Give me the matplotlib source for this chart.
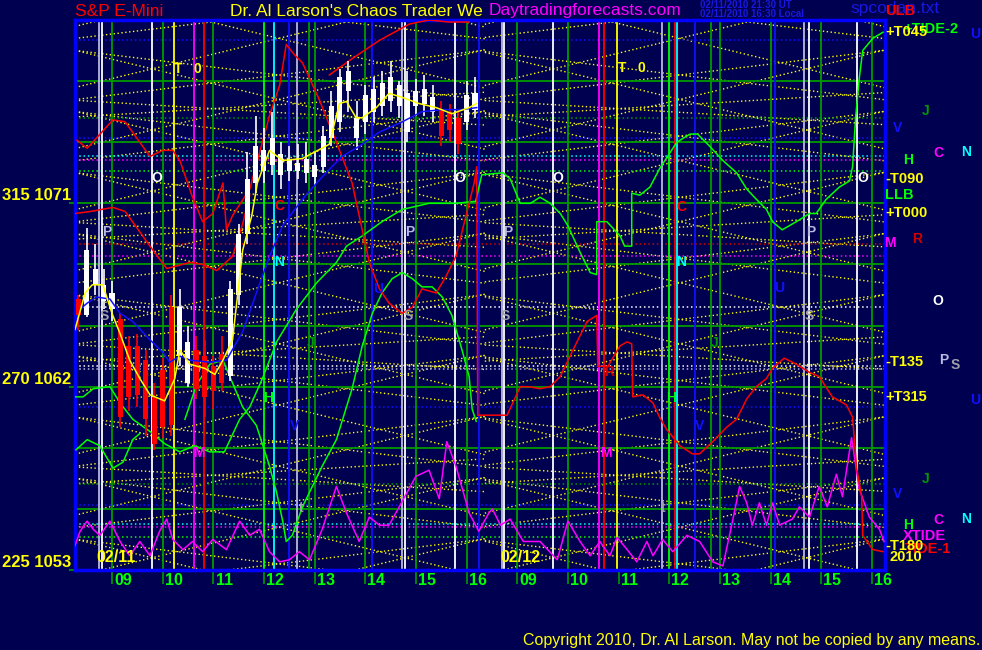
"""S&P E-Mini chaos trader chart, 02/11 - 02/12 2010."""

import matplotlib
matplotlib.use("Agg")
import matplotlib.pyplot as plt
import matplotlib.transforms as mtransforms
import numpy as np

plt.rcParams["font.family"] = ["Liberation Sans", "DejaVu Sans"]

# x axis is in chart hours: day 1 hour h -> h, day 2 hour h -> h + 8
BG = "#000050"
YELLOW = "#ffff00"
GREEN = "#00ff00"
DKGREEN = "#009a00"
BLUE = "#1010ff"
RED = "#ff0000"
MAGENTA = "#ff00ff"
CYAN = "#00ffff"
LAV = "#b8b8e0"
WHITE = "#ffffff"
GRAY = "#a0a0a8"

X_MIN, X_MAX = 8.27, 24.26
P_MIN, P_MAX = 1053.0, 1080.0

# ---- 10 minute bars, day 1 ----
bar_times = 8 + np.arange(2, 50) / 6
bar_open = [1066.3, 1065.5, 1067.0, 1066.2, 1065.8, 1065.3, 1064.0, 1064.0, 1063.3, 1061.5,
            1062.8, 1065.9, 1063.5, 1062.2, 1063.8, 1063.5, 1063.0, 1063.6, 1062.5, 1066.5,
            1069.5, 1072.0, 1072.6, 1072.9, 1072.4, 1072.6, 1072.6, 1072.5, 1072.3, 1072.8,
            1074.2, 1075.0, 1076.5, 1074.2, 1075.0, 1075.5, 1075.8, 1076.0, 1075.8, 1074.5,
            1075.8, 1075.9, 1075.5, 1075.6, 1075.5, 1075.2, 1075.0, 1075.6]
bar_close = [1065.5, 1068.7, 1067.8, 1067.0, 1066.6, 1060.5, 1061.5, 1061.6, 1060.4, 1059.2,
             1060.0, 1060.1, 1065.9, 1064.2, 1061.9, 1061.5, 1061.8, 1062.2, 1066.8, 1069.5,
             1072.2, 1073.8, 1073.6, 1074.2, 1073.4, 1073.2, 1073.0, 1073.2, 1072.9, 1074.3,
             1075.8, 1077.2, 1077.5, 1075.2, 1076.3, 1076.6, 1076.9, 1077.2, 1076.8, 1076.4,
             1076.5, 1076.6, 1076.2, 1074.3, 1074.6, 1073.9, 1076.3, 1076.4]
bar_high = [1066.5, 1069.8, 1069.0, 1067.8, 1067.2, 1065.6, 1064.5, 1064.6, 1063.8, 1062.2,
            1063.4, 1066.5, 1066.8, 1065.0, 1064.5, 1064.3, 1063.5, 1064.5, 1067.2, 1070.0,
            1073.5, 1075.3, 1074.7, 1075.5, 1074.0, 1073.8, 1073.9, 1074.0, 1073.5, 1074.8,
            1076.5, 1077.6, 1078.0, 1076.0, 1076.8, 1077.2, 1077.5, 1078.0, 1077.0, 1077.5,
            1077.1, 1077.3, 1076.8, 1076.0, 1075.9, 1075.6, 1077.0, 1077.2]
bar_low = [1064.8, 1065.4, 1066.5, 1065.8, 1065.2, 1060.0, 1060.8, 1061.0, 1059.6, 1058.9,
           1059.5, 1059.6, 1063.0, 1062.0, 1061.4, 1060.5, 1060.9, 1061.8, 1062.3, 1066.0,
           1069.0, 1071.5, 1072.0, 1072.4, 1071.7, 1072.1, 1072.2, 1072.0, 1071.9, 1072.5,
           1073.8, 1074.5, 1075.5, 1073.6, 1074.4, 1075.0, 1075.3, 1075.5, 1075.2, 1074.0,
           1075.3, 1075.3, 1075.0, 1073.8, 1074.0, 1073.4, 1074.6, 1075.2]

# ---- overlay curves (chart hour, price) ----
ma_t = [8.27, 8.47, 8.61, 8.82, 9.00, 9.16, 9.35, 9.55, 9.75, 10.04, 10.24, 10.34, 10.54, 10.83,
        11.03, 11.19, 11.38, 11.58, 11.76, 11.87, 12.11, 12.37, 12.76, 13.29, 13.49, 13.63, 13.82,
        13.94, 14.22, 14.47, 14.73, 15.06, 15.40, 15.71, 16.05, 16.20]
ma_p = [1064.8, 1066.6, 1067.0, 1067.0, 1065.6, 1064.6, 1063.3, 1062.4, 1061.6, 1061.3, 1062.4,
        1063.8, 1063.1, 1062.9, 1062.6, 1063.3, 1064.3, 1068.7, 1070.4, 1072.0, 1073.6, 1073.1,
        1073.2, 1073.9, 1075.9, 1076.0, 1075.2, 1075.2, 1075.7, 1076.4, 1076.2, 1075.9, 1075.7,
        1075.4, 1075.7, 1075.9]

blue_t = [8.37, 8.51, 8.70, 8.96, 9.16, 9.41, 9.75, 10.0, 10.14, 10.34, 10.54, 10.93, 11.26,
          11.58, 11.85, 12.11, 12.37, 12.76, 13.15, 13.54, 13.88, 14.28, 14.73, 15.12, 15.52,
          15.91, 16.20]
blue_p = [1065.8, 1066.1, 1066.4, 1066.3, 1065.6, 1065.2, 1064.3, 1063.7, 1063.2, 1063.5, 1063.3,
          1063.2, 1063.3, 1064.7, 1066.6, 1068.4, 1069.9, 1071.2, 1072.3, 1073.3, 1073.8, 1074.5,
          1075.0, 1075.5, 1075.6, 1075.6, 1075.7]

red_a_t = [8.31, 8.51, 9.02, 9.26, 9.75, 10.0, 10.20, 10.34, 10.59, 10.79, 10.99, 11.19, 11.26,
           11.38, 11.72, 12.11, 12.31, 12.44, 12.60, 12.76, 13.09, 13.43, 13.74, 13.94, 14.08,
           14.28, 14.47, 14.73, 14.93, 15.12, 15.40, 15.59, 15.79, 15.99, 16.15, 16.20, 16.22,
           16.47, 16.80, 17.06, 17.22, 17.45, 17.65, 17.85, 18.10, 18.38, 18.57, 18.59, 18.79,
           19.03, 19.17, 19.26, 19.28, 19.48, 19.68, 19.81, 19.95, 20.21, 20.46, 20.60, 20.86,
           21.13, 21.33, 21.53, 21.72, 21.92, 22.04, 22.27, 22.51, 22.77, 22.96, 23.22, 23.50,
           23.62, 23.70, 23.80, 23.82, 24.02, 24.22]
red_a_p = [1074.1, 1073.7, 1075.1, 1075.0, 1073.3, 1073.6, 1073.6, 1073.1, 1071.3, 1070.1, 1070.5,
           1072.0, 1069.7, 1070.4, 1071.7, 1075.3, 1076.8, 1078.8, 1078.3, 1077.9, 1076.1, 1074.0,
           1072.0, 1069.7, 1068.1, 1066.8, 1066.1, 1065.6, 1065.9, 1066.8, 1066.6, 1067.4, 1068.4,
           1070.4, 1072.0, 1072.8, 1060.6, 1060.6, 1060.6, 1062.0, 1062.0, 1061.9, 1062.0, 1062.5,
           1063.8, 1065.2, 1065.5, 1063.0, 1063.0, 1064.0, 1064.2, 1064.1, 1061.5, 1061.6, 1061.2,
           1060.5, 1059.9, 1059.1, 1058.7, 1058.7, 1059.3, 1060.0, 1060.4, 1061.4, 1062.0, 1062.4,
           1062.9, 1063.4, 1063.1, 1062.7, 1062.5, 1061.5, 1061.1, 1060.5, 1058.0, 1056.6, 1054.7,
           1054.0, 1053.9]

red_b_t = [8.27, 8.57, 9.02, 9.26, 9.75, 10.08, 10.54, 10.79, 11.07, 11.38, 11.58, 11.72]
red_b_p = [1070.5, 1070.6, 1070.8, 1070.6, 1068.9, 1067.8, 1068.1, 1068.0, 1067.7, 1068.4,
           1070.0, 1071.4]

red_c_t = [13.29, 13.74, 14.28, 14.87, 15.26, 15.65, 16.05]
red_c_p = [1077.3, 1078.1, 1079.0, 1079.8, 1080.0, 1079.9, 1079.9]

green_a_t = [8.27, 8.43, 8.63, 8.96, 9.16, 9.41, 9.75, 10.04, 10.34, 10.63, 10.93, 11.22, 11.52,
             11.72, 11.97, 12.25, 12.64, 13.04, 13.43, 13.63, 13.94, 14.33, 14.73, 15.26, 15.79,
             16.18, 16.30, 16.72, 16.86, 17.06, 17.26, 17.45, 17.65, 17.85, 18.0, 18.24, 18.44,
             18.57, 18.57, 18.77, 19.03, 19.12, 19.26, 19.26, 19.42, 19.62, 19.81, 20.15, 20.41,
             20.56, 20.80, 21.06, 21.33, 21.53, 21.72, 21.92, 22.04, 22.23, 22.51, 22.77, 22.90,
             23.10, 23.36, 23.56, 23.62, 23.68, 23.75, 23.82, 24.02, 24.22]
green_a_p = [1061.5, 1061.5, 1061.9, 1062.0, 1061.2, 1060.4, 1059.8, 1059.2, 1058.8, 1059.1, 1058.8,
             1058.8, 1060.4, 1061.0, 1062.4, 1064.2, 1065.8, 1067.1, 1068.1, 1068.9, 1069.4,
             1070.1, 1070.7, 1071.0, 1071.0, 1071.1, 1072.4, 1072.5, 1072.2, 1071.0, 1071.0,
             1071.3, 1071.0, 1070.5, 1069.9, 1068.6, 1067.6, 1067.5, 1070.1, 1070.1, 1069.4,
             1068.9, 1068.9, 1071.5, 1071.4, 1071.8, 1072.7, 1074.0, 1074.4, 1074.4, 1073.8,
             1073.1, 1072.5, 1071.7, 1071.2, 1070.7, 1070.1, 1069.7, 1070.1, 1070.5, 1070.5,
             1071.2, 1071.8, 1072.1, 1072.8, 1075.2, 1077.1, 1078.5, 1079.1, 1079.4]

green_b_t = [10.44, 10.67, 10.93, 11.19, 11.58, 11.85, 12.11, 12.25, 12.37, 12.44, 12.56, 12.76,
             13.15, 13.43, 13.74, 13.94, 14.14, 14.33, 14.53, 14.73, 14.93, 15.12, 15.32, 15.52,
             15.71, 15.91, 16.05, 16.11, 16.19]
green_b_p = [1060.4, 1062.1, 1063.1, 1063.3, 1061.0, 1060.1, 1058.1, 1056.8, 1055.4, 1054.4,
             1054.7, 1056.1, 1058.1, 1059.4, 1061.9, 1064.0, 1065.6, 1066.6, 1067.3, 1067.6,
             1067.3, 1066.9, 1066.9, 1066.4, 1065.5, 1063.8, 1062.5, 1060.9, 1060.3]

green_c_t = [8.29, 8.51, 8.76, 9.02, 9.22, 9.41, 9.55]
green_c_p = [1058.9, 1059.4, 1059.1, 1058.0, 1058.3, 1059.4, 1059.7]

tide_t = [8.27, 8.37, 8.51, 8.63, 8.76, 8.96, 9.16, 9.35, 9.55, 9.75, 9.94, 10.08, 10.20, 10.40,
          10.59, 10.79, 10.99, 11.26, 11.52, 11.72, 11.91, 12.11, 12.31, 12.50, 12.70, 12.90,
          13.15, 13.43, 13.63, 13.88, 14.08, 14.28, 14.47, 14.67, 15.0, 15.26, 15.46, 15.61,
          15.79, 16.05, 16.24, 16.44, 16.51, 16.67, 16.86, 17.12, 17.45, 17.79, 18.0, 18.24,
          18.44, 18.63, 18.83, 18.97, 19.17, 19.36, 19.56, 19.68, 19.87, 20.07, 20.35, 20.60,
          20.86, 21.06, 21.25, 21.39, 21.53, 21.64, 21.78, 21.92, 22.04, 22.18, 22.43, 22.57,
          22.77, 22.96, 23.12, 23.30, 23.42, 23.60, 23.75, 23.95, 24.15, 24.24]
tide_p = [1054.2, 1054.9, 1055.4, 1055.0, 1054.7, 1055.4, 1054.4, 1053.7, 1054.4, 1053.7, 1054.9,
          1055.5, 1054.5, 1054.0, 1054.4, 1053.9, 1054.5, 1054.0, 1055.4, 1054.7, 1055.0, 1053.9,
          1053.4, 1053.5, 1053.9, 1053.5, 1055.0, 1057.1, 1055.8, 1054.4, 1055.6, 1055.2, 1055.2,
          1056.1, 1057.6, 1057.9, 1056.5, 1059.3, 1058.1, 1055.8, 1054.9, 1055.8, 1056.0, 1055.2,
          1055.5, 1054.4, 1054.4, 1053.5, 1055.4, 1054.4, 1053.7, 1054.4, 1053.7, 1054.6, 1054.0,
          1053.4, 1054.4, 1053.7, 1054.5, 1053.9, 1054.7, 1054.4, 1053.4, 1053.2, 1055.4, 1057.1,
          1056.3, 1055.2, 1056.3, 1055.2, 1056.3, 1055.2, 1055.5, 1056.1, 1055.6, 1057.1, 1056.1,
          1057.7, 1056.6, 1059.5, 1057.0, 1055.6, 1055.0, 1054.4]

# ---- time lines ----
vline_times = [8.74, 8.80, 9.0, 9.79, 10.0, 10.22, 10.61, 10.81, 11.0, 12.0, 12.19, 12.50, 12.66,
               12.88, 13.0, 14.0, 14.14, 14.73, 14.79, 15.0, 15.77, 16.0, 16.24,
               16.69, 16.74, 17.0, 17.71, 18.0, 18.61, 18.71, 18.97, 19.85, 20.0, 20.11, 20.15,
               20.50, 20.82, 21.0, 22.0, 22.08, 22.67, 22.75, 23.0, 23.70, 24.0]
vline_colors = [LAV, WHITE, DKGREEN, WHITE, DKGREEN, YELLOW, MAGENTA, RED, DKGREEN, GREEN, CYAN,
                BLUE, LAV, DKGREEN, DKGREEN, DKGREEN, BLUE, LAV, WHITE, DKGREEN, WHITE, DKGREEN,
                BLUE,
                LAV, WHITE, DKGREEN, WHITE, DKGREEN, MAGENTA, RED, YELLOW, LAV, GREEN, RED, CYAN,
                BLUE, DKGREEN, DKGREEN, DKGREEN, BLUE, LAV, WHITE, DKGREEN, WHITE, DKGREEN]

# ---- price levels ----
grid_prices = [1056, 1059, 1062, 1065, 1068, 1071, 1074, 1077]
level_prices = [1079.0, 1075.2, 1074.2, 1073.3, 1073.15, 1072.6, 1069.0, 1068.4, 1065.9, 1063.0,
                1062.85, 1061.0, 1057.2, 1056.2, 1055.25, 1055.1, 1054.6]
level_colors = [BLUE, DKGREEN, BLUE, CYAN, MAGENTA, GREEN, "#d00000", MAGENTA, WHITE, WHITE,
                LAV, BLUE, DKGREEN, BLUE, CYAN, MAGENTA, GREEN]

# ---- yellow angle lattices: slope (points/hour), spacing and crossing hours per day ----
lattice_slopes = [0.6, 0.3, 0.15]
lattice_spacing = [3.0, 3.0, 6.0]
lattice_cross_day1 = [9.79, 12.29, 11.0]
lattice_cross_day2 = [17.71, 20.21, 19.0]
day_spans = [(X_MIN, 16.36), (16.36, X_MAX)]

hour_ticks = [9, 10, 11, 12, 13, 14, 15, 16, 17, 18, 19, 20, 21, 22, 23, 24]
hour_labels = ["09", "10", "11", "12", "13", "14", "15", "16"] * 2
axis_prices = [1053, 1062, 1071]
axis_labels = ["225 1053", "270 1062", "315 1071"]

W, H = 982, 650
fig = plt.figure(figsize=(W / 100, H / 100), dpi=100, facecolor=BG)
ax = fig.add_axes([75 / W, 1 - 570 / H, 810 / W, 550 / H])
ax.set_facecolor(BG)
ax.set_xlim(X_MIN, X_MAX)
ax.set_ylim(P_MIN, P_MAX)


def px(x, y):
    return x / W, 1 - y / H


dots = (0, (1, 1.8))

# lattice
for slope, gap, c1, c2 in zip(lattice_slopes, lattice_spacing, lattice_cross_day1,
                              lattice_cross_day2):
    for (t0, t1), tc in zip(day_spans, (c1, c2)):
        tt = np.array([t0, t1])
        reach = slope * 9
        for base in np.arange(P_MIN - reach - gap, P_MAX + reach + gap, gap):
            for sign in (1, -1):
                ax.plot(tt, base + sign * slope * (tt - tc), color=YELLOW, lw=1.0,
                        ls=dots, zorder=1)

for p in grid_prices:
    ax.axhline(p, color=DKGREEN, lw=1.3, zorder=2)
for p, c in zip(level_prices, level_colors):
    ax.axhline(p, color=c, lw=1.1, ls=dots, zorder=2)
for t, c in zip(vline_times, vline_colors):
    ax.axvline(t, color=c, lw=1.3, zorder=2)

# indicator curves
ax.plot(tide_t, tide_p, color=MAGENTA, lw=1.1, zorder=3)
ax.plot(green_a_t, green_a_p, color=GREEN, lw=1.1, zorder=3)
ax.plot(green_b_t, green_b_p, color=GREEN, lw=1.1, zorder=3)
ax.plot(green_c_t, green_c_p, color=GREEN, lw=1.1, zorder=3)
ax.plot(red_a_t, red_a_p, color=RED, lw=1.1, zorder=3)
ax.plot(red_b_t, red_b_p, color=RED, lw=1.1, zorder=3)
ax.plot(red_c_t, red_c_p, color=RED, lw=1.1, zorder=3)

# candles
o = np.array(bar_open)
c = np.array(bar_close)
colors = np.where(c >= o, WHITE, RED)
ax.vlines(bar_times, bar_low, bar_high, colors=colors, lw=1.2, zorder=4)
ax.bar(bar_times, np.abs(c - o), bottom=np.minimum(o, c), width=0.1, color=colors,
       linewidth=0, zorder=4)

ax.plot(blue_t, blue_p, color=BLUE, lw=1.1, zorder=5)
ax.plot(ma_t, ma_p, color=YELLOW, lw=1.1, zorder=5)

for s in ax.spines.values():
    s.set_color("#0000ff")
    s.set_linewidth(2.5)

ax.set_xticks(hour_ticks)
ax.set_xticklabels([])
ax.set_yticks(axis_prices)
ax.set_yticklabels([])
ax.tick_params(axis="x", direction="out", length=10, width=1.2, color=DKGREEN)
ax.tick_params(axis="y", direction="out", length=4, width=1.2, color=DKGREEN)

trans = mtransforms.blended_transform_factory(ax.transData, ax.transAxes)
for t, lab in zip(hour_ticks, hour_labels):
    ax.text(t + 0.22, -0.019, lab, transform=trans, color=GREEN, fontsize=11.5,
            fontweight="bold", ha="center", va="center", clip_on=False)

trans_y = mtransforms.blended_transform_factory(fig.transFigure, ax.transData)
for p, lab in zip(axis_prices, axis_labels):
    ax.text(71 / W, p, lab, transform=trans_y, color=YELLOW, fontsize=12,
            fontweight="bold", ha="right", va="bottom", clip_on=False)

# annotation letters (pixel positions)
letters = [
    ("T", 178, 69, YELLOW), ("0", 197, 69, YELLOW), ("O", 157, 178, WHITE),
    ("P", 107, 232, LAV), ("S", 104, 316, GRAY), ("C", 279, 206, RED), ("N", 279, 262, CYAN),
    ("U", 378, 289, BLUE), ("S", 408, 316, GRAY), ("P", 410, 232, LAV), ("O", 460, 178, WHITE),
    ("J", 311, 343, DKGREEN), ("H", 268, 398, GREEN), ("V", 295, 426, BLUE),
    ("M", 199, 453, MAGENTA), ("t", 301, 508, GRAY),
    ("T", 622, 68, YELLOW), ("0", 641, 68, YELLOW), ("O", 558, 178, WHITE),
    ("P", 508, 232, LAV), ("S", 505, 316, GRAY), ("C", 681, 207, RED), ("N", 681, 262, CYAN),
    ("U", 779, 288, BLUE), ("P", 811, 232, LAV), ("S", 809, 316, GRAY), ("O", 863, 178, WHITE),
    ("R", 609, 372, "#d00000"), ("J", 715, 343, DKGREEN), ("H", 671, 398, GREEN),
    ("V", 700, 426, BLUE), ("M", 606, 453, MAGENTA), ("t", 663, 508, GRAY),
    ("J", 926, 111, DKGREEN), ("V", 898, 128, BLUE), ("H", 908, 160, GREEN),
    ("C", 938, 153, MAGENTA), ("N", 966, 152, CYAN), ("U", 975, 34, BLUE),
    ("M", 890, 243, MAGENTA), ("R", 917, 239, "#d00000"), ("O", 938, 301, WHITE),
    ("P", 944, 360, LAV), ("S", 955, 365, GRAY), ("U", 975, 400, BLUE),
    ("J", 926, 479, DKGREEN), ("V", 898, 494, BLUE), ("H", 908, 525, GREEN),
    ("C", 938, 520, MAGENTA), ("N", 966, 519, CYAN),
]
for s, x, y, col in letters:
    fig.text(*px(x, y), s, color=col, fontsize=10, fontweight="bold", ha="center",
             va="center", zorder=6)

right_tags = [
    ("+TIDE-2", 903, 29, GREEN), ("+T045", 885, 32, YELLOW),
    ("-T090", 885, 179, YELLOW), ("LLB", 885, 195, GREEN), ("+T000", 885, 213, YELLOW),
    ("-T135", 885, 362, YELLOW), ("+T315", 885, 397, YELLOW), ("XTIDE", 903, 536, MAGENTA),
    ("TIDE-1", 905, 549, RED), ("-T180", 885, 546, YELLOW), ("2010", 890, 557, YELLOW),
]
for s, x, y, col in right_tags:
    fig.text(*px(x, y), s, color=col, fontsize=10.5, fontweight="bold", ha="left",
             va="center", zorder=6)

fig.text(*px(96, 557), "02/11", color=YELLOW, fontsize=11.5, fontweight="bold",
         ha="left", va="center")
fig.text(*px(500, 557), "02/12", color=YELLOW, fontsize=11.5, fontweight="bold",
         ha="left", va="center")

# header
fig.text(*px(850, 9), "spcodan.txt", color="#1818e0", fontsize=12.5, ha="left", va="center")
fig.text(*px(885, 11), "ULB", color=RED, fontsize=10.5, fontweight="bold", ha="left",
         va="center")
fig.text(*px(75, 11), "S&P E-Mini", color=RED, fontsize=12.5, ha="left", va="center")
fig.text(*px(230, 11), "Dr. Al Larson's Chaos Trader We", color=YELLOW, fontsize=12.5,
         ha="left", va="center")
fig.text(*px(489, 11), "Daytradingforecasts.com", color=MAGENTA, fontsize=12.5, ha="left",
         va="center")
fig.text(*px(700, 5), "02/11/2010 21:30 UT", color="#1818e0", fontsize=7, fontweight="bold",
         ha="left", va="center")
fig.text(*px(700, 14), "02/11/2010 16:30 Local", color="#1818e0", fontsize=7,
         fontweight="bold", ha="left", va="center")
fig.text(*px(980, 640), "Copyright 2010, Dr. Al Larson. May not be copied by any means.",
         color=YELLOW, fontsize=11.5, ha="right", va="center")

fig.savefig("out.png", dpi=100, facecolor=BG)
